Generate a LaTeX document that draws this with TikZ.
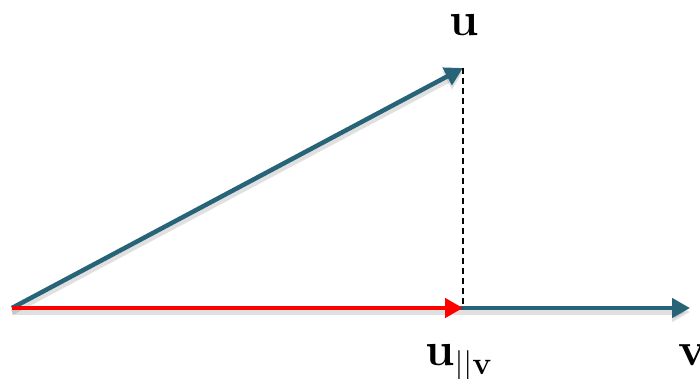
\documentclass[tikz,border=0pt]{standalone}
\usepackage{xcolor}
\usetikzlibrary{arrows.meta,positioning}

\definecolor{vecteal}{HTML}{276478}
\newcommand{\subfont}{\fontsize{32}{32}\selectfont}

\begin{document}
\begin{tikzpicture}[
    x=1pt, y=-1pt,
    vec/.style={line width=4.5pt, -{Triangle[length=18pt,width=19pt]}},
    shadowed/.style={preaction={draw=black, opacity=0.12, line width=6pt, transform canvas={yshift=-4pt}}},
    lbl/.style={font=\fontsize{47}{47}\selectfont\bfseries, inner sep=0pt}
]
\useasboundingbox (0,0) rectangle (700,379);

% Points
\coordinate (origin) at (12,308);
\coordinate (utip) at (463,68);
\coordinate (foot) at (463,308);
\coordinate (vtip) at (690,308);

% Vectors
\draw[vec, shadowed, vecteal] (origin) -- (vtip);
\draw[vec, shadowed, vecteal] (origin) -- (utip);
\draw[vec, red] (origin) -- (foot);

% Projection line
\draw[line width=1.4pt, dash pattern=on 6pt off 4pt] (utip) -- (foot);

% Labels
\node[lbl, anchor=base] (ulabel) at (464,36) {u};
\node[lbl, anchor=base west] (plabel) at (425,365) {u\raisebox{-9pt}{\subfont\mdseries||\bfseries v}};
\node[lbl, anchor=base west] (vlabel) at (678,365) {v};

\end{tikzpicture}
\end{document}
